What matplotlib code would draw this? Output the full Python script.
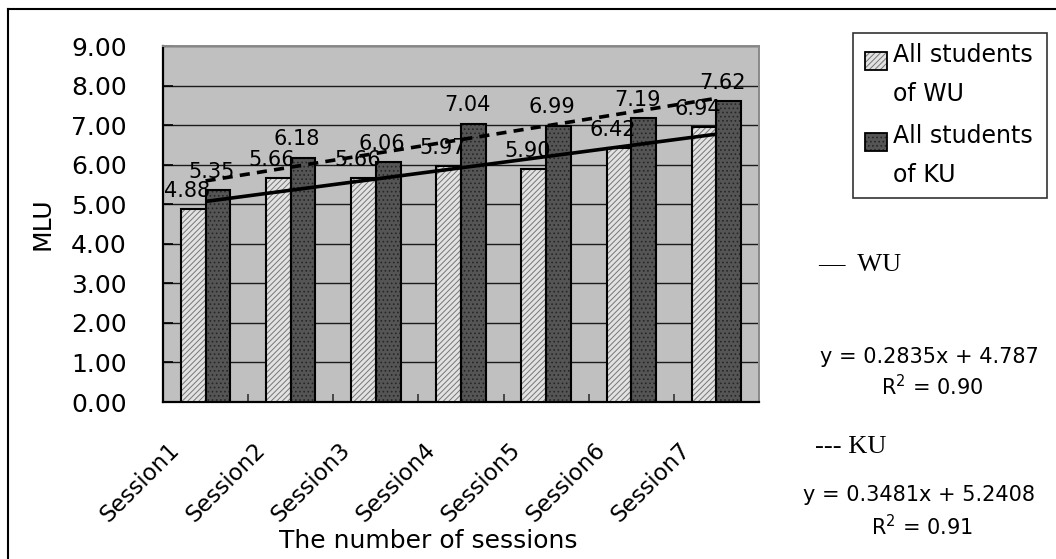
import matplotlib
matplotlib.use("Agg")
import matplotlib.pyplot as plt
import matplotlib.transforms as mtransforms
from matplotlib.patches import Rectangle
from matplotlib.lines import Line2D
import numpy as np

sessions = ["Session1", "Session2", "Session3", "Session4", "Session5", "Session6", "Session7"]
wu = [4.88, 5.66, 5.66, 5.97, 5.90, 6.42, 6.94]
ku = [5.35, 6.18, 6.06, 7.04, 6.99, 7.19, 7.62]
series_names = ["All students of WU", "All students of KU"]
trend_names = ["WU", "KU"]
trend_slope = [0.2835, 0.3481]
trend_icept = [4.787, 5.2408]
trend_r2 = [0.90, 0.91]

plt.rcParams["font.family"] = "DejaVu Sans"
plt.rcParams["hatch.linewidth"] = 0.7

W, H = 1056, 559
fig = plt.figure(figsize=(W / 100, H / 100), dpi=100)
ax = fig.add_axes([163 / W, 1 - 402 / H, (759 - 163) / W, (402 - 46) / H])
ax.set_facecolor("#c0c0c0")

x = np.arange(len(sessions))
bw = 0.29

# WU bars: light with diagonal hatch, KU bars: dark with dotted fill
ax.bar(x - bw / 2, wu, bw, color="#e2e2e2", edgecolor="#767676", hatch="//////", lw=0, zorder=3)
ax.bar(x - bw / 2, wu, bw, fill=False, edgecolor="black", lw=1.5, zorder=4)
ax.bar(x + bw / 2, ku, bw, color="#555555", edgecolor="#262626", hatch="....", lw=0, zorder=3)
ax.bar(x + bw / 2, ku, bw, fill=False, edgecolor="black", lw=1.5, zorder=4)

# linear trend lines over session number 1..7
xs = x + 1
ax.plot(x, trend_slope[0] * xs + trend_icept[0], color="black", lw=2.6, zorder=5,
        solid_capstyle="butt")
ax.plot(x, trend_slope[1] * xs + trend_icept[1], color="black", lw=2.6, zorder=5,
        dashes=(2.8, 2.0))

for xi, v in zip(x, wu):
    ax.annotate(f"{v:.2f}", (xi - bw / 2, v), xytext=(-4.5, 13), textcoords="offset points",
                ha="center", va="center", fontsize=15, zorder=6)
for xi, v in zip(x, ku):
    ax.annotate(f"{v:.2f}", (xi + bw / 2, v), xytext=(-4.5, 13), textcoords="offset points",
                ha="center", va="center", fontsize=15, zorder=6)

ax.set_xlim(-0.5, len(sessions) - 0.5)
ax.set_ylim(0, 9)
ax.set_yticks(np.arange(0, 10, 1))
ax.set_yticklabels([f"{v:.2f}" for v in np.arange(0, 10, 1)])
ax.yaxis.grid(True, color="#1a1a1a", lw=1.0, zorder=1)
ax.set_axisbelow(True)

ax.set_xticks(x)
ax.set_xticklabels(sessions, rotation=45, ha="right", va="top", fontsize=16.5)
ax.set_xticks(np.arange(0.5, len(sessions) - 0.5, 1), minor=True)
ax.tick_params(axis="x", which="major", length=0, pad=26)
ax.tick_params(axis="x", which="minor", direction="in", length=6, width=1.2, color="#333333")
ax.tick_params(axis="y", direction="in", length=7, width=1.2, labelsize=18, pad=26)
shift = mtransforms.ScaledTranslation(-21 / 100, 0, fig.dpi_scale_trans)
for lab in ax.get_xticklabels():
    lab.set_transform(lab.get_transform() + shift)

for side in ("left", "bottom"):
    ax.spines[side].set_color("black")
    ax.spines[side].set_linewidth(1.6)
for side in ("top", "right"):
    ax.spines[side].set_color("#8a8a8a")
    ax.spines[side].set_linewidth(1.4)

fig.text(43 / W, 1 - 224 / H, "MLU", rotation=90, ha="center", va="center", fontsize=18)
fig.text(428 / W, 1 - 541 / H, "The number of sessions", ha="center", va="center", fontsize=18)

# legend box drawn by hand so the swatch sits on the first text line
fig.patches.append(Rectangle((853 / W, 1 - 198 / H), 194 / W, 165 / H, transform=fig.transFigure,
                             fill=False, edgecolor="#333333", lw=1.2))
sw_style = [dict(fc="#e2e2e2", hatch="//////", ec="#767676"),
            dict(fc="#555555", hatch="....", ec="#262626")]
for i, name in enumerate(series_names):
    top = 52 + i * 81
    fig.patches.append(Rectangle((865 / W, 1 - (top + 18) / H), 22 / W, 18 / H,
                                 transform=fig.transFigure, lw=0, **sw_style[i]))
    fig.patches.append(Rectangle((865 / W, 1 - (top + 18) / H), 22 / W, 18 / H,
                                 transform=fig.transFigure, fill=False, ec="black", lw=1.3))
    words = name.split(" ")
    lines = [" ".join(words[:2]), " ".join(words[2:])]
    for j, line in enumerate(lines):
        fig.text(893 / W, 1 - (top + 3 + j * 39) / H, line, ha="left", va="center", fontsize=17)

# trend line notes
note_x = [818, 815]
note_y = [265, 447]
eq_x = [929, 919]
eq_y = [357, 495]
r2_y = [387, 527]
marks = ["\u2014  ", "--- "]
for i in range(2):
    fig.text(note_x[i] / W, 1 - note_y[i] / H, marks[i] + trend_names[i],
             family="Liberation Serif", ha="left", va="center", fontsize=19)
    fig.text(eq_x[i] / W, 1 - eq_y[i] / H, f"y = {trend_slope[i]}x + {trend_icept[i]}",
             ha="center", va="center", fontsize=15)
    fig.text(eq_x[i] / W + 0.003, 1 - r2_y[i] / H, f"R$^2$ = {trend_r2[i]:.2f}",
             ha="center", va="center", fontsize=15)

# outer frame (top and left edges)
fig.add_artist(Line2D([8 / W, 8 / W], [0, 1 - 9 / H], transform=fig.transFigure, color="black", lw=1.5))
fig.add_artist(Line2D([8 / W, 1], [1 - 9 / H, 1 - 9 / H], transform=fig.transFigure, color="black", lw=1.5))

fig.savefig("out.png", dpi=100)
